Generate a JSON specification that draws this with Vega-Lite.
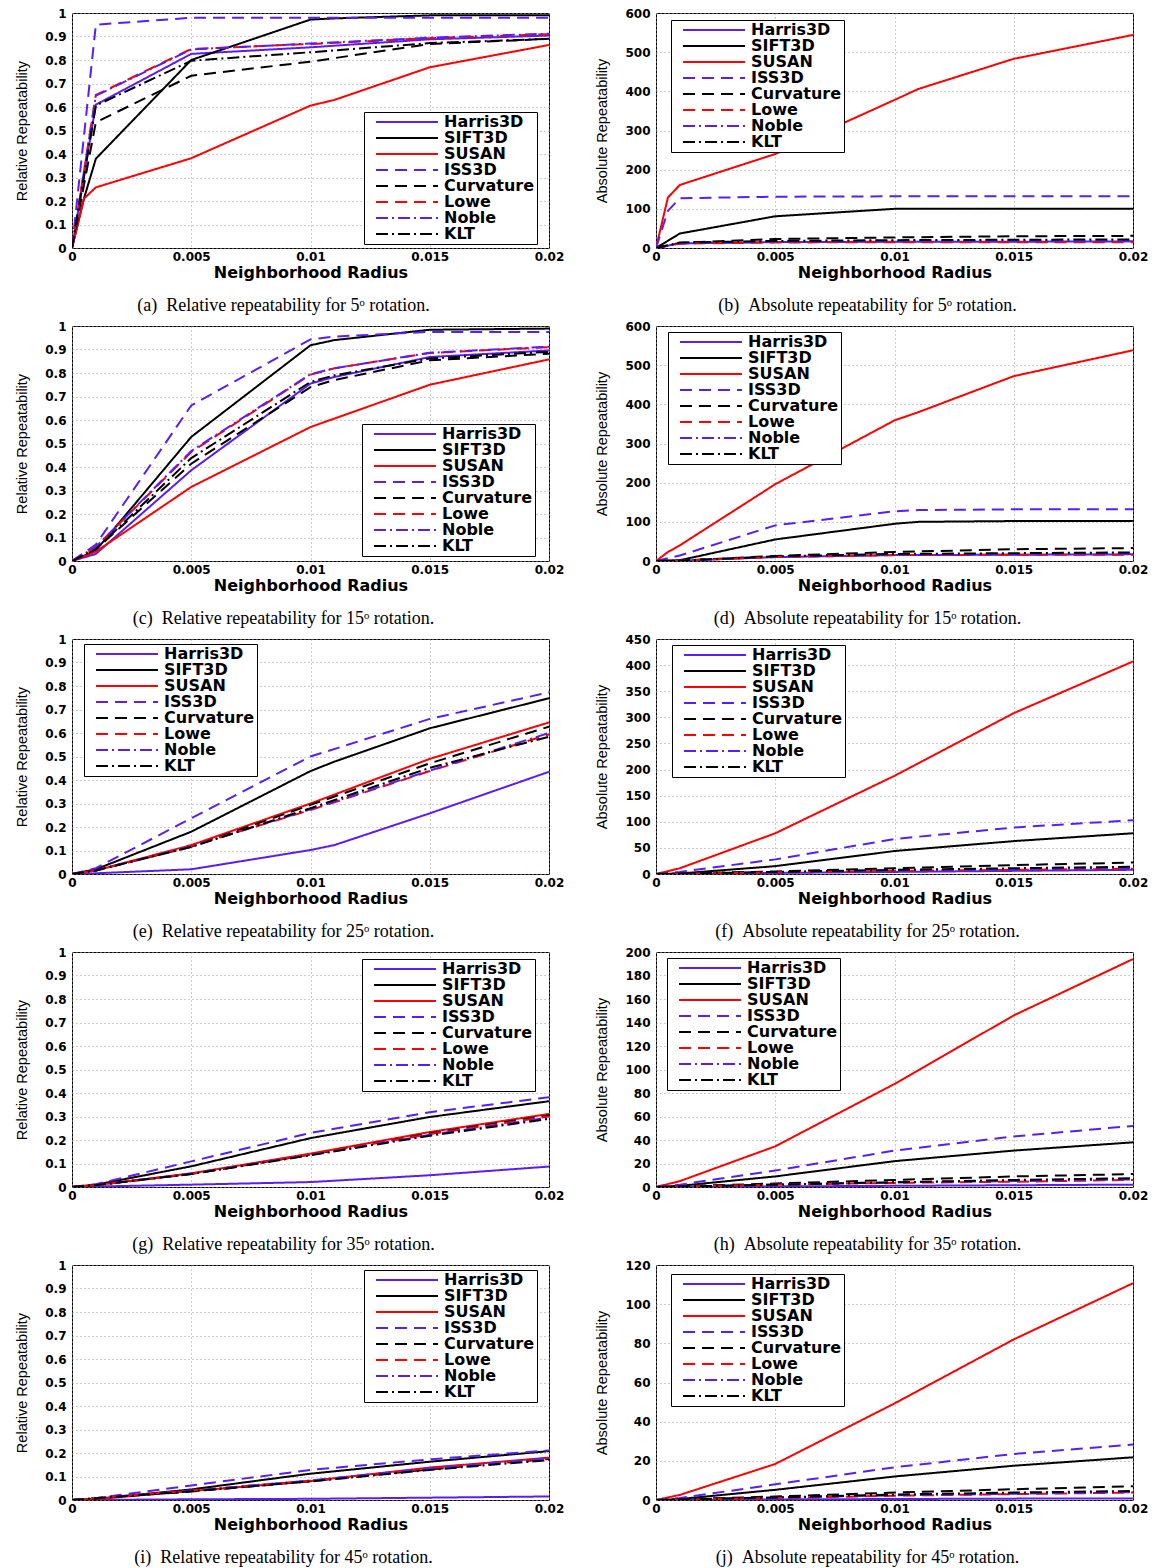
{
"$schema":"https://vega.github.io/schema/vega-lite/v6.json",
"background":"white",
"padding":{"left":14,"top":6,"right":5,"bottom":5},
"columns":2,
"spacing":{"row":78,"column":107},
"bounds":"flush",
"resolve":{"scale":{"x":"independent","y":"independent","color":"independent","strokeDash":"independent"},"legend":{"color":"independent","strokeDash":"independent"}},
"config":{
"view":{"stroke":"black","strokeWidth":1},
"axis":{"labelFont":"DejaVu Sans","labelFontWeight":"bold","labelFontSize":12,"labelColor":"black","labelFlush":false,"labelOverlap":false,"labelBound":false,"ticks":false,"domain":false,"grid":true,"gridColor":"#999999","gridDash":[1,3],"gridOpacity":1,"titleColor":"black"},
"axisX":{"labelPadding":3,"titleFont":"DejaVu Sans","titleFontWeight":"bold","titleFontSize":16,"titlePadding":2},
"axisY":{"labelPadding":6,"titleFont":"Liberation Sans Narrow, Liberation Sans","titleFontWeight":"normal","titleFontSize":14.5,"titlePadding":15},
"title":{"orient":"bottom","font":"Liberation Serif","fontSize":18,"fontWeight":"normal","offset":17,"anchor":"middle","dx":-27,"color":"black"},
"legend":{"fillColor":"white","strokeColor":"black","padding":2,"rowPadding":0,"clipHeight":16,"symbolSize":3844,"symbolStrokeWidth":2,"symbolOffset":9,"labelOffset":5,"labelFont":"DejaVu Sans","labelFontWeight":"bold","labelFontSize":16,"labelColor":"black","cornerRadius":0}
},
"datasets":{
"a":[
{"s":"Harris3D","x":0,"y":0},{"s":"Harris3D","x":0.001,"y":0.61},{"s":"Harris3D","x":0.005,"y":0.826},{"s":"Harris3D","x":0.01,"y":0.854},{"s":"Harris3D","x":0.015,"y":0.888},{"s":"Harris3D","x":0.02,"y":0.904},
{"s":"SIFT3D","x":0,"y":0},{"s":"SIFT3D","x":0.0005,"y":0.21},{"s":"SIFT3D","x":0.001,"y":0.38},{"s":"SIFT3D","x":0.005,"y":0.8},{"s":"SIFT3D","x":0.01,"y":0.972},{"s":"SIFT3D","x":0.011,"y":0.977},{"s":"SIFT3D","x":0.015,"y":0.99},{"s":"SIFT3D","x":0.02,"y":0.99},
{"s":"SUSAN","x":0,"y":0},{"s":"SUSAN","x":0.0005,"y":0.21},{"s":"SUSAN","x":0.001,"y":0.258},{"s":"SUSAN","x":0.005,"y":0.382},{"s":"SUSAN","x":0.01,"y":0.606},{"s":"SUSAN","x":0.011,"y":0.63},{"s":"SUSAN","x":0.015,"y":0.769},{"s":"SUSAN","x":0.02,"y":0.864},
{"s":"ISS3D","x":0,"y":0},{"s":"ISS3D","x":0.001,"y":0.95},{"s":"ISS3D","x":0.005,"y":0.98},{"s":"ISS3D","x":0.01,"y":0.98},{"s":"ISS3D","x":0.015,"y":0.98},{"s":"ISS3D","x":0.02,"y":0.98},
{"s":"Curvature","x":0,"y":0},{"s":"Curvature","x":0.001,"y":0.535},{"s":"Curvature","x":0.005,"y":0.733},{"s":"Curvature","x":0.01,"y":0.793},{"s":"Curvature","x":0.015,"y":0.868},{"s":"Curvature","x":0.02,"y":0.89},
{"s":"Lowe","x":0,"y":0},{"s":"Lowe","x":0.001,"y":0.651},{"s":"Lowe","x":0.005,"y":0.847},{"s":"Lowe","x":0.01,"y":0.868},{"s":"Lowe","x":0.015,"y":0.893},{"s":"Lowe","x":0.02,"y":0.91},
{"s":"Noble","x":0,"y":0},{"s":"Noble","x":0.001,"y":0.648},{"s":"Noble","x":0.005,"y":0.845},{"s":"Noble","x":0.01,"y":0.87},{"s":"Noble","x":0.015,"y":0.895},{"s":"Noble","x":0.02,"y":0.912},
{"s":"KLT","x":0,"y":0},{"s":"KLT","x":0.001,"y":0.606},{"s":"KLT","x":0.005,"y":0.797},{"s":"KLT","x":0.01,"y":0.833},{"s":"KLT","x":0.015,"y":0.872},{"s":"KLT","x":0.02,"y":0.89}
],
"b":[
{"s":"Harris3D","x":0,"y":0},{"s":"Harris3D","x":0.001,"y":12},{"s":"Harris3D","x":0.005,"y":15},{"s":"Harris3D","x":0.01,"y":16},{"s":"Harris3D","x":0.015,"y":16},{"s":"Harris3D","x":0.02,"y":17},
{"s":"SIFT3D","x":0,"y":0},{"s":"SIFT3D","x":0.001,"y":37},{"s":"SIFT3D","x":0.005,"y":81},{"s":"SIFT3D","x":0.01,"y":100},{"s":"SIFT3D","x":0.015,"y":100},{"s":"SIFT3D","x":0.02,"y":100},
{"s":"SUSAN","x":0,"y":0},{"s":"SUSAN","x":0.0005,"y":129},{"s":"SUSAN","x":0.001,"y":161},{"s":"SUSAN","x":0.005,"y":240},{"s":"SUSAN","x":0.01,"y":378},{"s":"SUSAN","x":0.011,"y":406},{"s":"SUSAN","x":0.015,"y":483},{"s":"SUSAN","x":0.02,"y":544},
{"s":"ISS3D","x":0,"y":0},{"s":"ISS3D","x":0.0005,"y":95},{"s":"ISS3D","x":0.001,"y":127},{"s":"ISS3D","x":0.005,"y":131},{"s":"ISS3D","x":0.01,"y":132},{"s":"ISS3D","x":0.015,"y":132},{"s":"ISS3D","x":0.02,"y":132},
{"s":"Curvature","x":0,"y":0},{"s":"Curvature","x":0.001,"y":13},{"s":"Curvature","x":0.005,"y":23},{"s":"Curvature","x":0.01,"y":27},{"s":"Curvature","x":0.015,"y":30},{"s":"Curvature","x":0.02,"y":31},
{"s":"Lowe","x":0,"y":0},{"s":"Lowe","x":0.001,"y":11},{"s":"Lowe","x":0.005,"y":14},{"s":"Lowe","x":0.01,"y":15},{"s":"Lowe","x":0.015,"y":15},{"s":"Lowe","x":0.02,"y":15},
{"s":"Noble","x":0,"y":0},{"s":"Noble","x":0.001,"y":12},{"s":"Noble","x":0.005,"y":16},{"s":"Noble","x":0.01,"y":17},{"s":"Noble","x":0.015,"y":17},{"s":"Noble","x":0.02,"y":17},
{"s":"KLT","x":0,"y":0},{"s":"KLT","x":0.001,"y":14},{"s":"KLT","x":0.005,"y":18},{"s":"KLT","x":0.01,"y":20},{"s":"KLT","x":0.015,"y":21},{"s":"KLT","x":0.02,"y":22}
],
"c":[
{"s":"Harris3D","x":0,"y":0},{"s":"Harris3D","x":0.001,"y":0.03},{"s":"Harris3D","x":0.005,"y":0.386},{"s":"Harris3D","x":0.01,"y":0.755},{"s":"Harris3D","x":0.011,"y":0.783},{"s":"Harris3D","x":0.015,"y":0.868},{"s":"Harris3D","x":0.02,"y":0.896},
{"s":"SIFT3D","x":0,"y":0},{"s":"SIFT3D","x":0.001,"y":0.045},{"s":"SIFT3D","x":0.005,"y":0.528},{"s":"SIFT3D","x":0.01,"y":0.918},{"s":"SIFT3D","x":0.011,"y":0.94},{"s":"SIFT3D","x":0.015,"y":0.984},{"s":"SIFT3D","x":0.02,"y":0.989},
{"s":"SUSAN","x":0,"y":0},{"s":"SUSAN","x":0.001,"y":0.04},{"s":"SUSAN","x":0.005,"y":0.315},{"s":"SUSAN","x":0.01,"y":0.57},{"s":"SUSAN","x":0.011,"y":0.606},{"s":"SUSAN","x":0.015,"y":0.75},{"s":"SUSAN","x":0.02,"y":0.858},
{"s":"ISS3D","x":0,"y":0},{"s":"ISS3D","x":0.001,"y":0.07},{"s":"ISS3D","x":0.005,"y":0.662},{"s":"ISS3D","x":0.01,"y":0.943},{"s":"ISS3D","x":0.011,"y":0.955},{"s":"ISS3D","x":0.015,"y":0.975},{"s":"ISS3D","x":0.02,"y":0.975},
{"s":"Curvature","x":0,"y":0},{"s":"Curvature","x":0.001,"y":0.05},{"s":"Curvature","x":0.005,"y":0.414},{"s":"Curvature","x":0.01,"y":0.74},{"s":"Curvature","x":0.011,"y":0.77},{"s":"Curvature","x":0.015,"y":0.854},{"s":"Curvature","x":0.02,"y":0.882},
{"s":"Lowe","x":0,"y":0},{"s":"Lowe","x":0.001,"y":0.06},{"s":"Lowe","x":0.005,"y":0.464},{"s":"Lowe","x":0.01,"y":0.793},{"s":"Lowe","x":0.011,"y":0.82},{"s":"Lowe","x":0.015,"y":0.885},{"s":"Lowe","x":0.02,"y":0.91},
{"s":"Noble","x":0,"y":0},{"s":"Noble","x":0.001,"y":0.06},{"s":"Noble","x":0.005,"y":0.468},{"s":"Noble","x":0.01,"y":0.795},{"s":"Noble","x":0.011,"y":0.82},{"s":"Noble","x":0.015,"y":0.886},{"s":"Noble","x":0.02,"y":0.912},
{"s":"KLT","x":0,"y":0},{"s":"KLT","x":0.001,"y":0.05},{"s":"KLT","x":0.005,"y":0.438},{"s":"KLT","x":0.01,"y":0.762},{"s":"KLT","x":0.011,"y":0.79},{"s":"KLT","x":0.015,"y":0.862},{"s":"KLT","x":0.02,"y":0.89}
],
"d":[
{"s":"Harris3D","x":0,"y":0},{"s":"Harris3D","x":0.001,"y":1},{"s":"Harris3D","x":0.005,"y":10},{"s":"Harris3D","x":0.01,"y":15},{"s":"Harris3D","x":0.015,"y":16},{"s":"Harris3D","x":0.02,"y":17},
{"s":"SIFT3D","x":0,"y":0},{"s":"SIFT3D","x":0.001,"y":2},{"s":"SIFT3D","x":0.005,"y":55},{"s":"SIFT3D","x":0.01,"y":95},{"s":"SIFT3D","x":0.011,"y":100},{"s":"SIFT3D","x":0.015,"y":102},{"s":"SIFT3D","x":0.02,"y":102},
{"s":"SUSAN","x":0,"y":0},{"s":"SUSAN","x":0.0005,"y":23},{"s":"SUSAN","x":0.001,"y":40},{"s":"SUSAN","x":0.005,"y":196},{"s":"SUSAN","x":0.01,"y":359},{"s":"SUSAN","x":0.011,"y":380},{"s":"SUSAN","x":0.015,"y":472},{"s":"SUSAN","x":0.02,"y":538},
{"s":"ISS3D","x":0,"y":0},{"s":"ISS3D","x":0.001,"y":14},{"s":"ISS3D","x":0.005,"y":91},{"s":"ISS3D","x":0.01,"y":127},{"s":"ISS3D","x":0.011,"y":130},{"s":"ISS3D","x":0.015,"y":132},{"s":"ISS3D","x":0.02,"y":132},
{"s":"Curvature","x":0,"y":0},{"s":"Curvature","x":0.001,"y":1},{"s":"Curvature","x":0.005,"y":13},{"s":"Curvature","x":0.01,"y":23},{"s":"Curvature","x":0.015,"y":30},{"s":"Curvature","x":0.02,"y":33},
{"s":"Lowe","x":0,"y":0},{"s":"Lowe","x":0.001,"y":1},{"s":"Lowe","x":0.005,"y":10},{"s":"Lowe","x":0.01,"y":15},{"s":"Lowe","x":0.015,"y":16},{"s":"Lowe","x":0.02,"y":16},
{"s":"Noble","x":0,"y":0},{"s":"Noble","x":0.001,"y":1},{"s":"Noble","x":0.005,"y":11},{"s":"Noble","x":0.01,"y":16},{"s":"Noble","x":0.015,"y":17},{"s":"Noble","x":0.02,"y":18},
{"s":"KLT","x":0,"y":0},{"s":"KLT","x":0.001,"y":1},{"s":"KLT","x":0.005,"y":12},{"s":"KLT","x":0.01,"y":18},{"s":"KLT","x":0.015,"y":20},{"s":"KLT","x":0.02,"y":22}
],
"e":[
{"s":"Harris3D","x":0,"y":0},{"s":"Harris3D","x":0.001,"y":0.003},{"s":"Harris3D","x":0.005,"y":0.02},{"s":"Harris3D","x":0.01,"y":0.102},{"s":"Harris3D","x":0.011,"y":0.123},{"s":"Harris3D","x":0.015,"y":0.258},{"s":"Harris3D","x":0.02,"y":0.435},
{"s":"SIFT3D","x":0,"y":0},{"s":"SIFT3D","x":0.001,"y":0.02},{"s":"SIFT3D","x":0.005,"y":0.18},{"s":"SIFT3D","x":0.01,"y":0.438},{"s":"SIFT3D","x":0.011,"y":0.478},{"s":"SIFT3D","x":0.015,"y":0.62},{"s":"SIFT3D","x":0.02,"y":0.748},
{"s":"SUSAN","x":0,"y":0},{"s":"SUSAN","x":0.001,"y":0.015},{"s":"SUSAN","x":0.005,"y":0.123},{"s":"SUSAN","x":0.01,"y":0.3},{"s":"SUSAN","x":0.015,"y":0.49},{"s":"SUSAN","x":0.02,"y":0.645},
{"s":"ISS3D","x":0,"y":0},{"s":"ISS3D","x":0.001,"y":0.025},{"s":"ISS3D","x":0.005,"y":0.237},{"s":"ISS3D","x":0.01,"y":0.5},{"s":"ISS3D","x":0.015,"y":0.66},{"s":"ISS3D","x":0.02,"y":0.773},
{"s":"Curvature","x":0,"y":0},{"s":"Curvature","x":0.001,"y":0.015},{"s":"Curvature","x":0.005,"y":0.116},{"s":"Curvature","x":0.01,"y":0.294},{"s":"Curvature","x":0.015,"y":0.471},{"s":"Curvature","x":0.02,"y":0.627},
{"s":"Lowe","x":0,"y":0},{"s":"Lowe","x":0.001,"y":0.015},{"s":"Lowe","x":0.005,"y":0.119},{"s":"Lowe","x":0.01,"y":0.272},{"s":"Lowe","x":0.015,"y":0.438},{"s":"Lowe","x":0.02,"y":0.594},
{"s":"Noble","x":0,"y":0},{"s":"Noble","x":0.001,"y":0.015},{"s":"Noble","x":0.005,"y":0.118},{"s":"Noble","x":0.01,"y":0.275},{"s":"Noble","x":0.015,"y":0.44},{"s":"Noble","x":0.02,"y":0.6},
{"s":"KLT","x":0,"y":0},{"s":"KLT","x":0.001,"y":0.015},{"s":"KLT","x":0.005,"y":0.115},{"s":"KLT","x":0.01,"y":0.28},{"s":"KLT","x":0.015,"y":0.452},{"s":"KLT","x":0.02,"y":0.584}
],
"f":[
{"s":"Harris3D","x":0,"y":0},{"s":"Harris3D","x":0.005,"y":2},{"s":"Harris3D","x":0.01,"y":4},{"s":"Harris3D","x":0.015,"y":6},{"s":"Harris3D","x":0.02,"y":8},
{"s":"SIFT3D","x":0,"y":0},{"s":"SIFT3D","x":0.001,"y":1},{"s":"SIFT3D","x":0.005,"y":15},{"s":"SIFT3D","x":0.01,"y":44},{"s":"SIFT3D","x":0.015,"y":63},{"s":"SIFT3D","x":0.02,"y":78},
{"s":"SUSAN","x":0,"y":0},{"s":"SUSAN","x":0.001,"y":11},{"s":"SUSAN","x":0.005,"y":78},{"s":"SUSAN","x":0.01,"y":188},{"s":"SUSAN","x":0.015,"y":308},{"s":"SUSAN","x":0.02,"y":407},
{"s":"ISS3D","x":0,"y":0},{"s":"ISS3D","x":0.001,"y":4},{"s":"ISS3D","x":0.005,"y":28},{"s":"ISS3D","x":0.01,"y":67},{"s":"ISS3D","x":0.015,"y":89},{"s":"ISS3D","x":0.02,"y":103},
{"s":"Curvature","x":0,"y":0},{"s":"Curvature","x":0.005,"y":5},{"s":"Curvature","x":0.01,"y":11},{"s":"Curvature","x":0.015,"y":17},{"s":"Curvature","x":0.02,"y":22},
{"s":"Lowe","x":0,"y":0},{"s":"Lowe","x":0.005,"y":3},{"s":"Lowe","x":0.01,"y":6},{"s":"Lowe","x":0.015,"y":8},{"s":"Lowe","x":0.02,"y":10},
{"s":"Noble","x":0,"y":0},{"s":"Noble","x":0.005,"y":3},{"s":"Noble","x":0.01,"y":6},{"s":"Noble","x":0.015,"y":9},{"s":"Noble","x":0.02,"y":11},
{"s":"KLT","x":0,"y":0},{"s":"KLT","x":0.005,"y":4},{"s":"KLT","x":0.01,"y":8},{"s":"KLT","x":0.015,"y":11},{"s":"KLT","x":0.02,"y":14}
],
"g":[
{"s":"Harris3D","x":0,"y":0},{"s":"Harris3D","x":0.005,"y":0.01},{"s":"Harris3D","x":0.01,"y":0.021},{"s":"Harris3D","x":0.015,"y":0.05},{"s":"Harris3D","x":0.02,"y":0.087},
{"s":"SIFT3D","x":0,"y":0},{"s":"SIFT3D","x":0.001,"y":0.01},{"s":"SIFT3D","x":0.005,"y":0.088},{"s":"SIFT3D","x":0.01,"y":0.208},{"s":"SIFT3D","x":0.015,"y":0.298},{"s":"SIFT3D","x":0.02,"y":0.365},
{"s":"SUSAN","x":0,"y":0},{"s":"SUSAN","x":0.001,"y":0.008},{"s":"SUSAN","x":0.005,"y":0.058},{"s":"SUSAN","x":0.01,"y":0.142},{"s":"SUSAN","x":0.015,"y":0.234},{"s":"SUSAN","x":0.02,"y":0.311},
{"s":"ISS3D","x":0,"y":0},{"s":"ISS3D","x":0.001,"y":0.012},{"s":"ISS3D","x":0.005,"y":0.109},{"s":"ISS3D","x":0.01,"y":0.23},{"s":"ISS3D","x":0.015,"y":0.318},{"s":"ISS3D","x":0.02,"y":0.382},
{"s":"Curvature","x":0,"y":0},{"s":"Curvature","x":0.001,"y":0.008},{"s":"Curvature","x":0.005,"y":0.055},{"s":"Curvature","x":0.01,"y":0.138},{"s":"Curvature","x":0.015,"y":0.228},{"s":"Curvature","x":0.02,"y":0.305},
{"s":"Lowe","x":0,"y":0},{"s":"Lowe","x":0.001,"y":0.008},{"s":"Lowe","x":0.005,"y":0.057},{"s":"Lowe","x":0.01,"y":0.14},{"s":"Lowe","x":0.015,"y":0.225},{"s":"Lowe","x":0.02,"y":0.3},
{"s":"Noble","x":0,"y":0},{"s":"Noble","x":0.001,"y":0.008},{"s":"Noble","x":0.005,"y":0.057},{"s":"Noble","x":0.01,"y":0.136},{"s":"Noble","x":0.015,"y":0.222},{"s":"Noble","x":0.02,"y":0.295},
{"s":"KLT","x":0,"y":0},{"s":"KLT","x":0.001,"y":0.008},{"s":"KLT","x":0.005,"y":0.055},{"s":"KLT","x":0.01,"y":0.135},{"s":"KLT","x":0.015,"y":0.218},{"s":"KLT","x":0.02,"y":0.29}
],
"h":[
{"s":"Harris3D","x":0,"y":0},{"s":"Harris3D","x":0.005,"y":0.5},{"s":"Harris3D","x":0.01,"y":1},{"s":"Harris3D","x":0.015,"y":1.5},{"s":"Harris3D","x":0.02,"y":2},
{"s":"SIFT3D","x":0,"y":0},{"s":"SIFT3D","x":0.001,"y":1},{"s":"SIFT3D","x":0.005,"y":9},{"s":"SIFT3D","x":0.01,"y":22},{"s":"SIFT3D","x":0.015,"y":31},{"s":"SIFT3D","x":0.02,"y":38},
{"s":"SUSAN","x":0,"y":0},{"s":"SUSAN","x":0.001,"y":5},{"s":"SUSAN","x":0.005,"y":34.6},{"s":"SUSAN","x":0.01,"y":87.7},{"s":"SUSAN","x":0.015,"y":146},{"s":"SUSAN","x":0.02,"y":194},
{"s":"ISS3D","x":0,"y":0},{"s":"ISS3D","x":0.001,"y":2},{"s":"ISS3D","x":0.005,"y":14},{"s":"ISS3D","x":0.01,"y":31},{"s":"ISS3D","x":0.015,"y":43},{"s":"ISS3D","x":0.02,"y":52},
{"s":"Curvature","x":0,"y":0},{"s":"Curvature","x":0.005,"y":3},{"s":"Curvature","x":0.01,"y":6},{"s":"Curvature","x":0.015,"y":9},{"s":"Curvature","x":0.02,"y":11},
{"s":"Lowe","x":0,"y":0},{"s":"Lowe","x":0.005,"y":2},{"s":"Lowe","x":0.01,"y":3.5},{"s":"Lowe","x":0.015,"y":4.5},{"s":"Lowe","x":0.02,"y":6},
{"s":"Noble","x":0,"y":0},{"s":"Noble","x":0.005,"y":2},{"s":"Noble","x":0.01,"y":4},{"s":"Noble","x":0.015,"y":5},{"s":"Noble","x":0.02,"y":6.5},
{"s":"KLT","x":0,"y":0},{"s":"KLT","x":0.005,"y":2},{"s":"KLT","x":0.01,"y":4},{"s":"KLT","x":0.015,"y":6},{"s":"KLT","x":0.02,"y":7.5}
],
"i":[
{"s":"Harris3D","x":0,"y":0},{"s":"Harris3D","x":0.005,"y":0.003},{"s":"Harris3D","x":0.01,"y":0.005},{"s":"Harris3D","x":0.015,"y":0.01},{"s":"Harris3D","x":0.02,"y":0.015},
{"s":"SIFT3D","x":0,"y":0},{"s":"SIFT3D","x":0.001,"y":0.005},{"s":"SIFT3D","x":0.005,"y":0.045},{"s":"SIFT3D","x":0.01,"y":0.112},{"s":"SIFT3D","x":0.015,"y":0.163},{"s":"SIFT3D","x":0.02,"y":0.208},
{"s":"SUSAN","x":0,"y":0},{"s":"SUSAN","x":0.001,"y":0.004},{"s":"SUSAN","x":0.005,"y":0.038},{"s":"SUSAN","x":0.01,"y":0.081},{"s":"SUSAN","x":0.015,"y":0.138},{"s":"SUSAN","x":0.02,"y":0.18},
{"s":"ISS3D","x":0,"y":0},{"s":"ISS3D","x":0.001,"y":0.008},{"s":"ISS3D","x":0.005,"y":0.062},{"s":"ISS3D","x":0.01,"y":0.128},{"s":"ISS3D","x":0.015,"y":0.173},{"s":"ISS3D","x":0.02,"y":0.211},
{"s":"Curvature","x":0,"y":0},{"s":"Curvature","x":0.005,"y":0.036},{"s":"Curvature","x":0.01,"y":0.08},{"s":"Curvature","x":0.015,"y":0.13},{"s":"Curvature","x":0.02,"y":0.175},
{"s":"Lowe","x":0,"y":0},{"s":"Lowe","x":0.005,"y":0.04},{"s":"Lowe","x":0.01,"y":0.082},{"s":"Lowe","x":0.015,"y":0.135},{"s":"Lowe","x":0.02,"y":0.178},
{"s":"Noble","x":0,"y":0},{"s":"Noble","x":0.005,"y":0.04},{"s":"Noble","x":0.01,"y":0.083},{"s":"Noble","x":0.015,"y":0.135},{"s":"Noble","x":0.02,"y":0.178},
{"s":"KLT","x":0,"y":0},{"s":"KLT","x":0.005,"y":0.037},{"s":"KLT","x":0.01,"y":0.079},{"s":"KLT","x":0.015,"y":0.128},{"s":"KLT","x":0.02,"y":0.17}
],
"j":[
{"s":"Harris3D","x":0,"y":0},{"s":"Harris3D","x":0.005,"y":0.3},{"s":"Harris3D","x":0.01,"y":0.5},{"s":"Harris3D","x":0.015,"y":0.7},{"s":"Harris3D","x":0.02,"y":0.8},
{"s":"SIFT3D","x":0,"y":0},{"s":"SIFT3D","x":0.001,"y":0.5},{"s":"SIFT3D","x":0.005,"y":5.2},{"s":"SIFT3D","x":0.01,"y":12},{"s":"SIFT3D","x":0.015,"y":17.5},{"s":"SIFT3D","x":0.02,"y":21.8},
{"s":"SUSAN","x":0,"y":0},{"s":"SUSAN","x":0.001,"y":2.6},{"s":"SUSAN","x":0.005,"y":18.4},{"s":"SUSAN","x":0.01,"y":49.3},{"s":"SUSAN","x":0.015,"y":82},{"s":"SUSAN","x":0.02,"y":110.7},
{"s":"ISS3D","x":0,"y":0},{"s":"ISS3D","x":0.001,"y":1},{"s":"ISS3D","x":0.005,"y":8},{"s":"ISS3D","x":0.01,"y":16.7},{"s":"ISS3D","x":0.015,"y":23.5},{"s":"ISS3D","x":0.02,"y":28.3},
{"s":"Curvature","x":0,"y":0},{"s":"Curvature","x":0.005,"y":1.8},{"s":"Curvature","x":0.01,"y":3.8},{"s":"Curvature","x":0.015,"y":5.5},{"s":"Curvature","x":0.02,"y":7},
{"s":"Lowe","x":0,"y":0},{"s":"Lowe","x":0.005,"y":1},{"s":"Lowe","x":0.01,"y":2.2},{"s":"Lowe","x":0.015,"y":3},{"s":"Lowe","x":0.02,"y":3.8},
{"s":"Noble","x":0,"y":0},{"s":"Noble","x":0.005,"y":1.2},{"s":"Noble","x":0.01,"y":2.4},{"s":"Noble","x":0.015,"y":3.2},{"s":"Noble","x":0.02,"y":4},
{"s":"KLT","x":0,"y":0},{"s":"KLT","x":0.005,"y":1.3},{"s":"KLT","x":0.01,"y":2.8},{"s":"KLT","x":0.015,"y":3.8},{"s":"KLT","x":0.02,"y":4.6}
]
},
"concat":[
{"width":477,"height":235,"data":{"name":"a"},"title":{"text":"(a)\u2002Relative repeatability for 5ᵒ rotation."},"mark":{"type":"line","strokeWidth":2,"clip":true},
"encoding":{
"x":{"field":"x","type":"quantitative","scale":{"domain":[0,0.02],"nice":false},"axis":{"values":[0,0.005,0.01,0.015,0.02],"format":"~r","title":"Neighborhood Radius"}},
"y":{"field":"y","type":"quantitative","scale":{"domain":[0,1],"nice":false},"axis":{"values":[0,0.1,0.2,0.3,0.4,0.5,0.6,0.7,0.8,0.9,1],"format":"~r","title":"Relative Repeatability"}},
"color":{"field":"s","type":"nominal","scale":{"domain":["Harris3D","SIFT3D","SUSAN","ISS3D","Curvature","Lowe","Noble","KLT"],"range":["#5a1ef5","#000000","#ff0000","#5a1ef5","#000000","#ff0000","#5a1ef5","#000000"]},"legend":{"orient":"none","legendX":292,"legendY":99,"title":null}},
"strokeDash":{"field":"s","type":"nominal","scale":{"domain":["Harris3D","SIFT3D","SUSAN","ISS3D","Curvature","Lowe","Noble","KLT"],"range":[[1,0],[1,0],[1,0],[12,7],[12,7],[12,7],[12,4,2,4],[12,4,2,4]]},"legend":{"orient":"none","legendX":292,"legendY":99,"title":null}}}},
{"width":477,"height":235,"data":{"name":"b"},"title":{"text":"(b)\u2002Absolute repeatability for 5ᵒ rotation."},"mark":{"type":"line","strokeWidth":2,"clip":true},
"encoding":{
"x":{"field":"x","type":"quantitative","scale":{"domain":[0,0.02],"nice":false},"axis":{"values":[0,0.005,0.01,0.015,0.02],"format":"~r","title":"Neighborhood Radius"}},
"y":{"field":"y","type":"quantitative","scale":{"domain":[0,600],"nice":false},"axis":{"values":[0,100,200,300,400,500,600],"format":"~r","title":"Absolute Repeatability"}},
"color":{"field":"s","type":"nominal","scale":{"domain":["Harris3D","SIFT3D","SUSAN","ISS3D","Curvature","Lowe","Noble","KLT"],"range":["#5a1ef5","#000000","#ff0000","#5a1ef5","#000000","#ff0000","#5a1ef5","#000000"]},"legend":{"orient":"none","legendX":15,"legendY":7,"title":null}},
"strokeDash":{"field":"s","type":"nominal","scale":{"domain":["Harris3D","SIFT3D","SUSAN","ISS3D","Curvature","Lowe","Noble","KLT"],"range":[[1,0],[1,0],[1,0],[12,7],[12,7],[12,7],[12,4,2,4],[12,4,2,4]]},"legend":{"orient":"none","legendX":15,"legendY":7,"title":null}}}},
{"width":477,"height":235,"data":{"name":"c"},"title":{"text":"(c)\u2002Relative repeatability for 15ᵒ rotation."},"mark":{"type":"line","strokeWidth":2,"clip":true},
"encoding":{
"x":{"field":"x","type":"quantitative","scale":{"domain":[0,0.02],"nice":false},"axis":{"values":[0,0.005,0.01,0.015,0.02],"format":"~r","title":"Neighborhood Radius"}},
"y":{"field":"y","type":"quantitative","scale":{"domain":[0,1],"nice":false},"axis":{"values":[0,0.1,0.2,0.3,0.4,0.5,0.6,0.7,0.8,0.9,1],"format":"~r","title":"Relative Repeatability"}},
"color":{"field":"s","type":"nominal","scale":{"domain":["Harris3D","SIFT3D","SUSAN","ISS3D","Curvature","Lowe","Noble","KLT"],"range":["#5a1ef5","#000000","#ff0000","#5a1ef5","#000000","#ff0000","#5a1ef5","#000000"]},"legend":{"orient":"none","legendX":290,"legendY":98,"title":null}},
"strokeDash":{"field":"s","type":"nominal","scale":{"domain":["Harris3D","SIFT3D","SUSAN","ISS3D","Curvature","Lowe","Noble","KLT"],"range":[[1,0],[1,0],[1,0],[12,7],[12,7],[12,7],[12,4,2,4],[12,4,2,4]]},"legend":{"orient":"none","legendX":290,"legendY":98,"title":null}}}},
{"width":477,"height":235,"data":{"name":"d"},"title":{"text":"(d)\u2002Absolute repeatability for 15ᵒ rotation."},"mark":{"type":"line","strokeWidth":2,"clip":true},
"encoding":{
"x":{"field":"x","type":"quantitative","scale":{"domain":[0,0.02],"nice":false},"axis":{"values":[0,0.005,0.01,0.015,0.02],"format":"~r","title":"Neighborhood Radius"}},
"y":{"field":"y","type":"quantitative","scale":{"domain":[0,600],"nice":false},"axis":{"values":[0,100,200,300,400,500,600],"format":"~r","title":"Absolute Repeatability"}},
"color":{"field":"s","type":"nominal","scale":{"domain":["Harris3D","SIFT3D","SUSAN","ISS3D","Curvature","Lowe","Noble","KLT"],"range":["#5a1ef5","#000000","#ff0000","#5a1ef5","#000000","#ff0000","#5a1ef5","#000000"]},"legend":{"orient":"none","legendX":12,"legendY":6,"title":null}},
"strokeDash":{"field":"s","type":"nominal","scale":{"domain":["Harris3D","SIFT3D","SUSAN","ISS3D","Curvature","Lowe","Noble","KLT"],"range":[[1,0],[1,0],[1,0],[12,7],[12,7],[12,7],[12,4,2,4],[12,4,2,4]]},"legend":{"orient":"none","legendX":12,"legendY":6,"title":null}}}},
{"width":477,"height":235,"data":{"name":"e"},"title":{"text":"(e)\u2002Relative repeatability for 25ᵒ rotation."},"mark":{"type":"line","strokeWidth":2,"clip":true},
"encoding":{
"x":{"field":"x","type":"quantitative","scale":{"domain":[0,0.02],"nice":false},"axis":{"values":[0,0.005,0.01,0.015,0.02],"format":"~r","title":"Neighborhood Radius"}},
"y":{"field":"y","type":"quantitative","scale":{"domain":[0,1],"nice":false},"axis":{"values":[0,0.1,0.2,0.3,0.4,0.5,0.6,0.7,0.8,0.9,1],"format":"~r","title":"Relative Repeatability"}},
"color":{"field":"s","type":"nominal","scale":{"domain":["Harris3D","SIFT3D","SUSAN","ISS3D","Curvature","Lowe","Noble","KLT"],"range":["#5a1ef5","#000000","#ff0000","#5a1ef5","#000000","#ff0000","#5a1ef5","#000000"]},"legend":{"orient":"none","legendX":12,"legendY":5,"title":null}},
"strokeDash":{"field":"s","type":"nominal","scale":{"domain":["Harris3D","SIFT3D","SUSAN","ISS3D","Curvature","Lowe","Noble","KLT"],"range":[[1,0],[1,0],[1,0],[12,7],[12,7],[12,7],[12,4,2,4],[12,4,2,4]]},"legend":{"orient":"none","legendX":12,"legendY":5,"title":null}}}},
{"width":477,"height":235,"data":{"name":"f"},"title":{"text":"(f)\u2002Absolute repeatability for 25ᵒ rotation."},"mark":{"type":"line","strokeWidth":2,"clip":true},
"encoding":{
"x":{"field":"x","type":"quantitative","scale":{"domain":[0,0.02],"nice":false},"axis":{"values":[0,0.005,0.01,0.015,0.02],"format":"~r","title":"Neighborhood Radius"}},
"y":{"field":"y","type":"quantitative","scale":{"domain":[0,450],"nice":false},"axis":{"values":[0,50,100,150,200,250,300,350,400,450],"format":"~r","title":"Absolute Repeatability"}},
"color":{"field":"s","type":"nominal","scale":{"domain":["Harris3D","SIFT3D","SUSAN","ISS3D","Curvature","Lowe","Noble","KLT"],"range":["#5a1ef5","#000000","#ff0000","#5a1ef5","#000000","#ff0000","#5a1ef5","#000000"]},"legend":{"orient":"none","legendX":16,"legendY":6,"title":null}},
"strokeDash":{"field":"s","type":"nominal","scale":{"domain":["Harris3D","SIFT3D","SUSAN","ISS3D","Curvature","Lowe","Noble","KLT"],"range":[[1,0],[1,0],[1,0],[12,7],[12,7],[12,7],[12,4,2,4],[12,4,2,4]]},"legend":{"orient":"none","legendX":16,"legendY":6,"title":null}}}},
{"width":477,"height":235,"data":{"name":"g"},"title":{"text":"(g)\u2002Relative repeatability for 35ᵒ rotation."},"mark":{"type":"line","strokeWidth":2,"clip":true},
"encoding":{
"x":{"field":"x","type":"quantitative","scale":{"domain":[0,0.02],"nice":false},"axis":{"values":[0,0.005,0.01,0.015,0.02],"format":"~r","title":"Neighborhood Radius"}},
"y":{"field":"y","type":"quantitative","scale":{"domain":[0,1],"nice":false},"axis":{"values":[0,0.1,0.2,0.3,0.4,0.5,0.6,0.7,0.8,0.9,1],"format":"~r","title":"Relative Repeatability"}},
"color":{"field":"s","type":"nominal","scale":{"domain":["Harris3D","SIFT3D","SUSAN","ISS3D","Curvature","Lowe","Noble","KLT"],"range":["#5a1ef5","#000000","#ff0000","#5a1ef5","#000000","#ff0000","#5a1ef5","#000000"]},"legend":{"orient":"none","legendX":290,"legendY":7,"title":null}},
"strokeDash":{"field":"s","type":"nominal","scale":{"domain":["Harris3D","SIFT3D","SUSAN","ISS3D","Curvature","Lowe","Noble","KLT"],"range":[[1,0],[1,0],[1,0],[12,7],[12,7],[12,7],[12,4,2,4],[12,4,2,4]]},"legend":{"orient":"none","legendX":290,"legendY":7,"title":null}}}},
{"width":477,"height":235,"data":{"name":"h"},"title":{"text":"(h)\u2002Absolute repeatability for 35ᵒ rotation."},"mark":{"type":"line","strokeWidth":2,"clip":true},
"encoding":{
"x":{"field":"x","type":"quantitative","scale":{"domain":[0,0.02],"nice":false},"axis":{"values":[0,0.005,0.01,0.015,0.02],"format":"~r","title":"Neighborhood Radius"}},
"y":{"field":"y","type":"quantitative","scale":{"domain":[0,200],"nice":false},"axis":{"values":[0,20,40,60,80,100,120,140,160,180,200],"format":"~r","title":"Absolute Repeatability"}},
"color":{"field":"s","type":"nominal","scale":{"domain":["Harris3D","SIFT3D","SUSAN","ISS3D","Curvature","Lowe","Noble","KLT"],"range":["#5a1ef5","#000000","#ff0000","#5a1ef5","#000000","#ff0000","#5a1ef5","#000000"]},"legend":{"orient":"none","legendX":11,"legendY":6,"title":null}},
"strokeDash":{"field":"s","type":"nominal","scale":{"domain":["Harris3D","SIFT3D","SUSAN","ISS3D","Curvature","Lowe","Noble","KLT"],"range":[[1,0],[1,0],[1,0],[12,7],[12,7],[12,7],[12,4,2,4],[12,4,2,4]]},"legend":{"orient":"none","legendX":11,"legendY":6,"title":null}}}},
{"width":477,"height":235,"data":{"name":"i"},"title":{"text":"(i)\u2002Relative repeatability for 45ᵒ rotation."},"mark":{"type":"line","strokeWidth":2,"clip":true},
"encoding":{
"x":{"field":"x","type":"quantitative","scale":{"domain":[0,0.02],"nice":false},"axis":{"values":[0,0.005,0.01,0.015,0.02],"format":"~r","title":"Neighborhood Radius"}},
"y":{"field":"y","type":"quantitative","scale":{"domain":[0,1],"nice":false},"axis":{"values":[0,0.1,0.2,0.3,0.4,0.5,0.6,0.7,0.8,0.9,1],"format":"~r","title":"Relative Repeatability"}},
"color":{"field":"s","type":"nominal","scale":{"domain":["Harris3D","SIFT3D","SUSAN","ISS3D","Curvature","Lowe","Noble","KLT"],"range":["#5a1ef5","#000000","#ff0000","#5a1ef5","#000000","#ff0000","#5a1ef5","#000000"]},"legend":{"orient":"none","legendX":292,"legendY":5,"title":null}},
"strokeDash":{"field":"s","type":"nominal","scale":{"domain":["Harris3D","SIFT3D","SUSAN","ISS3D","Curvature","Lowe","Noble","KLT"],"range":[[1,0],[1,0],[1,0],[12,7],[12,7],[12,7],[12,4,2,4],[12,4,2,4]]},"legend":{"orient":"none","legendX":292,"legendY":5,"title":null}}}},
{"width":477,"height":235,"data":{"name":"j"},"title":{"text":"(j)\u2002Absolute repeatability for 45ᵒ rotation."},"mark":{"type":"line","strokeWidth":2,"clip":true},
"encoding":{
"x":{"field":"x","type":"quantitative","scale":{"domain":[0,0.02],"nice":false},"axis":{"values":[0,0.005,0.01,0.015,0.02],"format":"~r","title":"Neighborhood Radius"}},
"y":{"field":"y","type":"quantitative","scale":{"domain":[0,120],"nice":false},"axis":{"values":[0,20,40,60,80,100,120],"format":"~r","title":"Absolute Repeatability"}},
"color":{"field":"s","type":"nominal","scale":{"domain":["Harris3D","SIFT3D","SUSAN","ISS3D","Curvature","Lowe","Noble","KLT"],"range":["#5a1ef5","#000000","#ff0000","#5a1ef5","#000000","#ff0000","#5a1ef5","#000000"]},"legend":{"orient":"none","legendX":15,"legendY":9,"title":null}},
"strokeDash":{"field":"s","type":"nominal","scale":{"domain":["Harris3D","SIFT3D","SUSAN","ISS3D","Curvature","Lowe","Noble","KLT"],"range":[[1,0],[1,0],[1,0],[12,7],[12,7],[12,7],[12,4,2,4],[12,4,2,4]]},"legend":{"orient":"none","legendX":15,"legendY":9,"title":null}}}}
]
}
